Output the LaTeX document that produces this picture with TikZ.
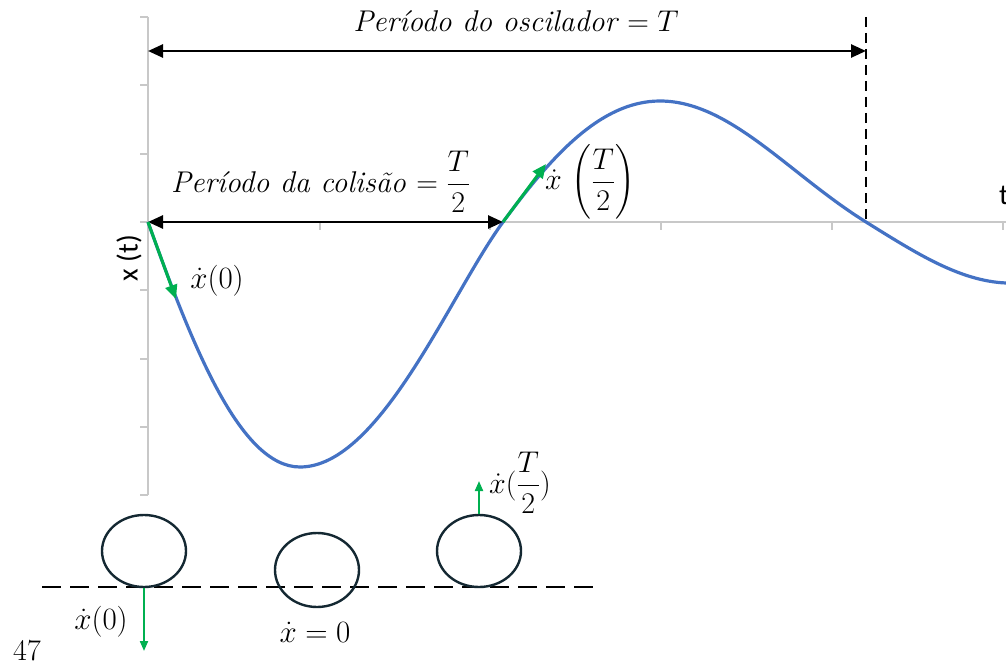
\documentclass[tikz,border=0pt]{standalone}
\usepackage{fix-cm}
\usepackage{fontspec}
\usepackage{amsmath}
\usetikzlibrary{arrows.meta,shapes.geometric}
\newfontfamily\calib{Carlito}
\definecolor{curveblue}{RGB}{68,114,196}
\definecolor{okgreen}{RGB}{0,176,80}
\definecolor{axgray}{RGB}{200,200,200}
\definecolor{ballc}{RGB}{20,40,50}
\tikzset{
  lbl/.style={inner sep=0pt, font=\fontsize{30}{34}\selectfont},
  biglbl/.style={inner sep=0pt, font=\fontsize{31}{35}\selectfont},
  sanslbl/.style={inner sep=0pt, font=\calib\fontsize{29}{32}\selectfont},
  axisline/.style={draw=axgray, line width=1.6pt},
  dimarrow/.style={line width=2.6pt, {Triangle[length=15pt,width=13pt]}-{Triangle[length=15pt,width=13pt]}},
  velarrow/.style={okgreen, line width=3pt, -{Triangle[length=14pt,width=12pt]}},
  smallvel/.style={okgreen, line width=2pt, -{Triangle[length=10pt,width=8pt]}},
  ball/.style={draw=ballc, line width=2.4pt},
  ground/.style={line width=2.6pt, dash pattern=on 19pt off 9pt},
  perline/.style={line width=2.6pt, dash pattern=on 10pt off 6pt}
}
\begin{document}
\begin{tikzpicture}[x=1pt,y=-1pt]
\useasboundingbox (0,0) rectangle (1006,666);
% axes
\coordinate (O) at (148,222);
\coordinate (Ytop) at (148,17);
\coordinate (Ybot) at (148,495);
\coordinate (Xend) at (1006,222);
\draw[axisline] (Ytop) -- (Ybot);
\draw[axisline] (O) -- (Xend);
\foreach \yy in {17,85,154,222,290,359,427,495} \draw[axisline] (140,\yy) -- (148,\yy);
\foreach \xx in {320,490,661,832,1003} \draw[axisline] (\xx,222) -- (\xx,230);
% curve
\draw[curveblue, line width=3.2pt, line join=round]
  (148,222) .. controls (192,345) and (240,467) .. (300,467)
            .. controls (380,467) and (450,294.5) .. (503,222)
            .. controls (550.4,157.6) and (600,101) .. (660,101)
            .. controls (730,101) and (789.5,174.6) .. (866,222)
            .. controls (917,253.8) and (960,281) .. (1006,283);
% period markers
\coordinate (H) at (503,222);
\coordinate (P) at (866,222);
\coordinate (Ptop) at (866,17);
\coordinate (TL) at (148,51);
\coordinate (TR) at (866,51);
\draw[perline] (Ptop) -- (P);
\draw[dimarrow] (TL) -- (TR);
\draw[dimarrow] (O) -- (H);
\node[lbl, anchor=base] (lblT) at (516,32) {\itshape Período do oscilador $=T$};
\node[lbl, anchor=west] (lblH) at (171,182) {\itshape Período da colisão $\displaystyle=\frac{T}{2}$};
% velocity arrows on curve
\coordinate (V0) at (176,299);
\coordinate (VH) at (546,164);
\draw[velarrow] (O) -- (V0);
\draw[velarrow] (H) -- (VH);
\node[biglbl] (lv0) at (217,281) {$\dot{x}(0)$};
\node[lbl] (lvh) at (590,182) {$\dot{x}\,\left(\dfrac{T}{2}\right)$};
% axis labels
\node[sanslbl, rotate=90] (xt) at (129,258) {x (t)};
\node[sanslbl, anchor=west] (tl) at (999,195) {t};
% bottom scene
\coordinate (GL) at (42,587);
\coordinate (GR) at (593,587);
\draw[ground] (GL) -- (GR);
\node[ball, ellipse, minimum width=84pt, minimum height=72pt, inner sep=0pt] (b1) at (144,551) {};
\node[ball, ellipse, minimum width=84pt, minimum height=74pt, inner sep=0pt] (b2) at (317,570) {};
\node[ball, ellipse, minimum width=84pt, minimum height=72pt, inner sep=0pt] (b3) at (479,551) {};
\coordinate (v1end) at (144,651);
\coordinate (v3end) at (479,481);
\draw[smallvel] (b1.south) -- (v1end);
\draw[smallvel] (b3.north) -- (v3end);
\node[biglbl] (bl1) at (101,622) {$\dot{x}(0)$};
\node[biglbl] (bl2) at (315,632) {$\dot{x}=0$};
\node[lbl] (bl3) at (520,483) {$\dot{x}({\displaystyle\frac{T}{2}})$};
\node[inner sep=0pt, font=\fontsize{30}{32}\selectfont] (pg) at (27,651) {47};
\end{tikzpicture}
\end{document}
